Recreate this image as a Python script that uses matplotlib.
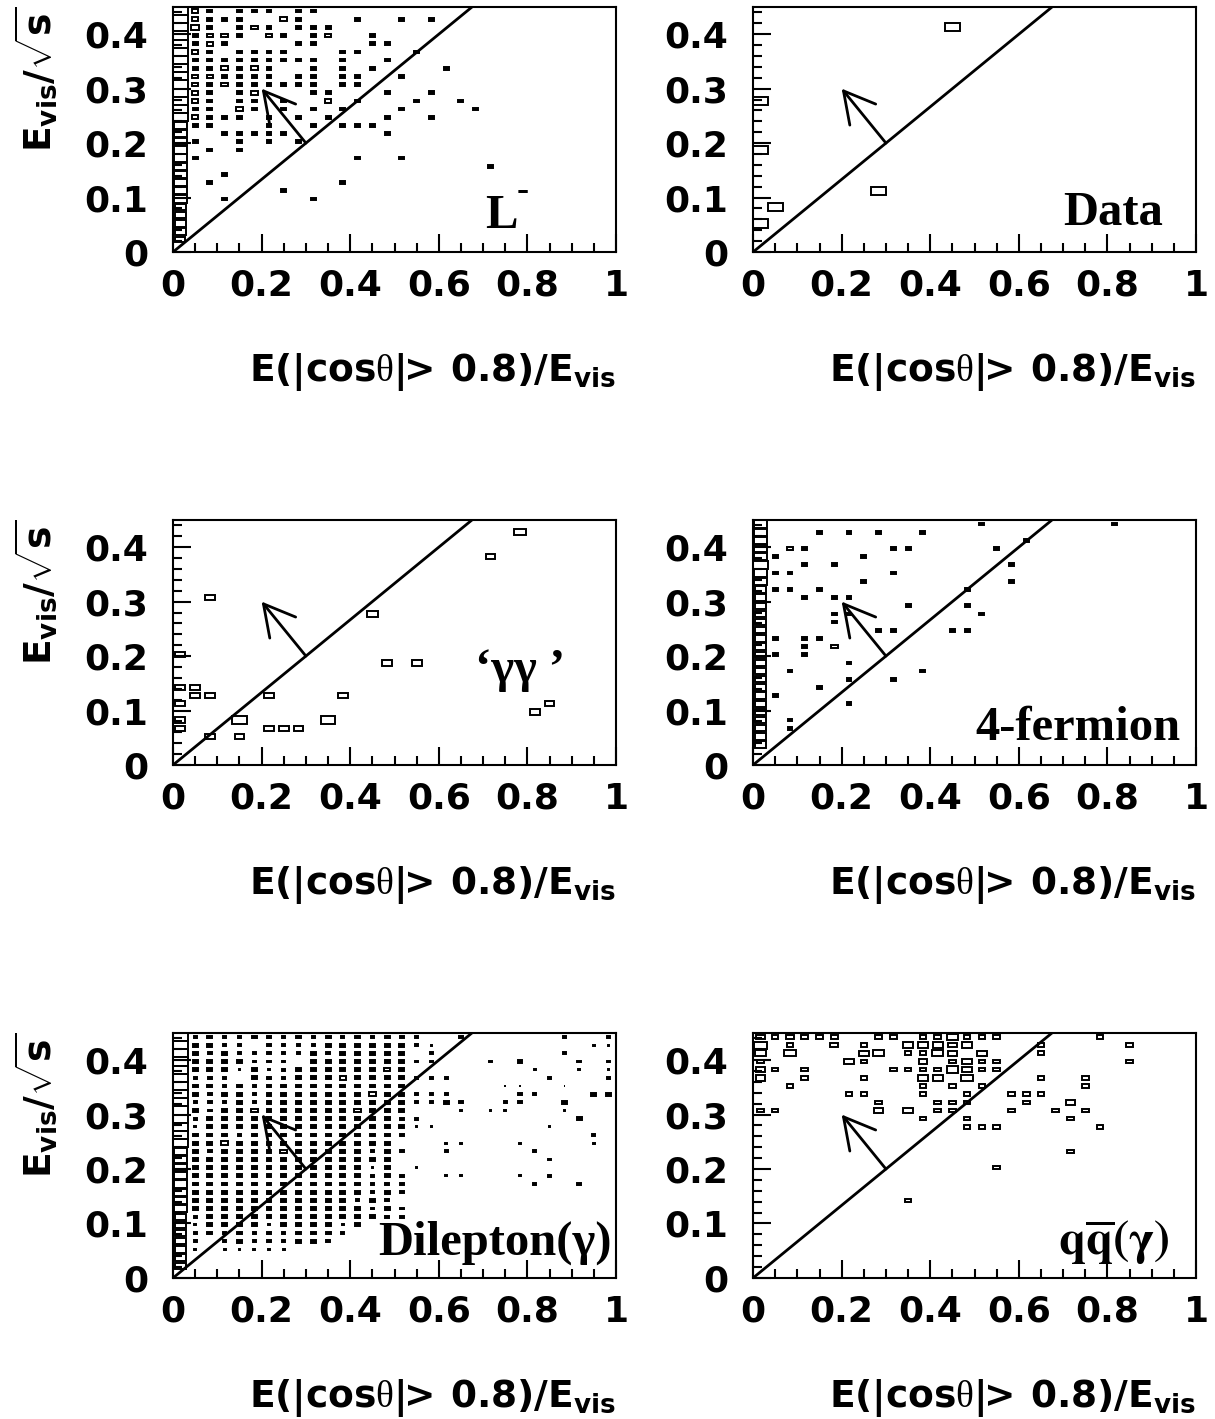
import matplotlib
matplotlib.use('Agg')
import matplotlib.pyplot as plt
from matplotlib import ticker
from matplotlib.patches import Rectangle

plt.rcParams['mathtext.fontset'] = 'custom'
plt.rcParams['mathtext.rm'] = 'DejaVu Sans:bold'
plt.rcParams['mathtext.bf'] = 'DejaVu Sans:bold'
plt.rcParams['mathtext.sf'] = 'DejaVu Sans:bold'
plt.rcParams['mathtext.it'] = 'Liberation Serif'

# histogram binning (30 x 30 bins)
NX, NY = 30, 30
XMAX, YMAX = 1.0, 0.45

# bin contents as relative box size (1..9, 9 = full bin), rows from top (y bin 29) down
GRID_L = [
    '943.333.33',
    '94333..43...3..3.3',
    '953.343.333',
    '93443.43.34..3',
    '9343....33...33',
    '943.3333...33...3',
    '9333333333.3..3',
    '9334343..3.3.3....3',
    '9443333.33.33..3',
    '9434333333.33',
    '943.34...33...3..3',
    '943.33.3..4.3...3..3',
    '933.43.3.3.3...3....3',
    '94333.3.3.3...3..3',
    '833...3..3.333',
    '8..33333......3',
    '83..3.3.3',
    '8.3.3',
    '83..........3..3',
    '8....................3',
    '8..3',
    '8.3........3',
    '8......3',
    '8..3.....3',
    '7',
    '7',
    '7',
    '7',
    '6',
    '',
]

# data events: bin index x, bin index y, box size
DATA_IX = [13, 0, 0, 8, 1, 0]
DATA_IY = [27, 18, 12, 7, 5, 3]
DATA_W = [9, 9, 9, 9, 9, 9]

# 'gamma gamma' background
GG_IX = [23, 21, 2, 13, 0, 14, 16, 0, 1, 1, 2, 6, 11, 0, 25, 24, 0, 4, 10, 0, 6, 7, 8, 2, 4]
GG_IY = [28, 25, 20, 18, 13, 12, 12, 9, 9, 8, 8, 8, 8, 7, 7, 6, 5, 5, 5, 4, 4, 4, 4, 3, 3]
GG_W = [7, 6, 6, 7, 6, 6, 6, 6, 6, 6, 6, 6, 6, 6, 6, 6, 6, 9, 9, 6, 6, 6, 6, 6, 6]

GRID_4F = [
    '8..............3........3',
    '8...3.3.3..3',
    '8.................3',
    '8.43.....33.....3',
    '83.....3',
    '9..3.3...........3',
    '833......3',
    '8......3.........3',
    '733.3.........3',
    '7..3.33',
    '7.........3...3',
    '7....33........3',
    '7....3',
    '7.......33...33',
    '73.33',
    '7..3.4',
    '73.3',
    '7.....3',
    '7.3........3',
    '7.....3..3',
    '7...3',
    '73',
    '7.....3',
    '7',
    '7.3',
    '7.3',
    '7',
    '7',
    '',
    '',
]

GRID_DILEP = [
    '92322322323232322..2......2..2',
    '93322.222233333321..........11',
    '9323222223233333.2........2',
    '93333222.333333322...2.3...2.2',
    '9333131233333343........1..1.1',
    '9222.32233343333222......2...2',
    '9332323333333333......11..1',
    '9323323333333433222....22...33',
    '92223233333333332232..22..3',
    '9323343333334333...1.11...1',
    '92333333333333322..........3',
    '913333333333333311.......1',
    '9333233333333332............2',
    '933433333333333...11...1....1',
    '8323333433333232..2.....2',
    '833333333333333..........2',
    '833333333333313.1',
    '8333333333333232..11...1.2',
    '8333333333333222........2..2',
    '8333333333333232',
    '833333333333232',
    '8333333333333232',
    '7233333333333322',
    '7133331333313',
    '723232323332',
    '72.23222332',
    '71.11111',
    '7',
    '7',
    '',
]

GRID_QQ = [
    '545444..44.447444......4',
    '8.4..5.4..66656....4.....4',
    '7.7....67.4475.6...4',
    '4.....64...5.4644........4',
    '64.4.....44447644',
    '6..4...4...66.7....4..4',
    '..4........4.4.4......4',
    '......44...4..4..444',
    '........4...444...4..5',
    '44......6.6.44...4..4.4',
    '...........4..4......4',
    '..............444......4',
    '',
    '',
    '.....................4',
    '',
    '................4',
    '',
    '',
    '',
    '..........4',
    '',
    '',
    '',
    '',
    '',
    '',
    '',
    '',
    '',
]

# selection cut and arrow
CUT_SLOPE = 2.0 / 3.0
ARROW_FROM = (0.3, 0.2)
ARROW_TO = (0.2, 0.3)

BOX_LW = 1.4
TICK_FONT = dict(family='DejaVu Sans', weight='bold', size=26)
LABEL_SERIF = dict(family='Liberation Serif', weight='bold', size=35)
XTITLE = r'$\mathrm{E(|cos}\theta\mathrm{|}\!\!>\mathrm{\ 0.8)/E_{vis}}$'
YTITLE = r'$\mathrm{E_{vis}/\sqrt{s}}$'


def add_box(ax, ix, iy, w):
    bw = XMAX / NX
    bh = YMAX / NY
    f = w / 9.0
    cx = (ix + 0.5) * bw
    cy = (iy + 0.5) * bh
    # small boxes print solid, as in the original
    face = 'black' if w <= 3 else 'none'
    ax.add_patch(Rectangle((cx - f * bw / 2, cy - f * bh / 2), f * bw, f * bh,
                           facecolor=face, edgecolor='black', lw=BOX_LW, zorder=1))


def draw_grid(ax, grid):
    for k, row in enumerate(grid):
        iy = NY - 1 - k
        for ix, ch in enumerate(row.ljust(NX, '.')):
            if ch != '.':
                add_box(ax, ix, iy, int(ch))


def draw_list(ax, xs, ys, ws):
    for ix, iy, w in zip(xs, ys, ws):
        add_box(ax, ix, iy, w)


def style(ax, ytitle=True):
    ax.set_xlim(0, XMAX)
    ax.set_ylim(0, YMAX)
    ax.xaxis.set_major_locator(ticker.MultipleLocator(0.2))
    ax.xaxis.set_minor_locator(ticker.MultipleLocator(0.05))
    ax.yaxis.set_major_locator(ticker.MultipleLocator(0.1))
    ax.yaxis.set_minor_locator(ticker.MultipleLocator(0.02))
    fmt = ticker.FuncFormatter(lambda v, p: '%g' % round(v, 2))
    ax.xaxis.set_major_formatter(fmt)
    ax.yaxis.set_major_formatter(fmt)
    ax.tick_params(which='both', direction='in', top=False, right=False, width=1.5)
    ax.tick_params(which='major', length=13)
    ax.tick_params(which='minor', length=6.5)
    ax.tick_params(axis='x', which='major', pad=12)
    ax.tick_params(axis='y', which='major', pad=18)
    for lab in ax.get_xticklabels() + ax.get_yticklabels():
        lab.set(**TICK_FONT)
    for sp in ax.spines.values():
        sp.set_linewidth(1.5)

    # cut line and arrow
    ax.plot([0, YMAX / CUT_SLOPE], [0, YMAX], color='black', lw=2.0, zorder=3)
    ax.annotate('', xy=ARROW_TO, xytext=ARROW_FROM,
                arrowprops=dict(arrowstyle='->,head_length=1.1,head_width=0.6',
                                mutation_scale=20, lw=2.0, color='black',
                                shrinkA=0, shrinkB=0), zorder=3)

    ax.text(1.0, -0.49, XTITLE, transform=ax.transAxes, ha='right', va='center', fontsize=27)
    if ytitle:
        ax.text(-0.31, 1.0, YTITLE, transform=ax.transAxes,
                rotation=90, ha='center', va='top', fontsize=27)


fig = plt.figure(figsize=(12.15, 14.19), dpi=100)
lefts = [0.1424, 0.6198]
bottoms = [0.8224, 0.4609, 0.0994]
W, H = 0.3646, 0.1727
axes = [[fig.add_axes([l, b, W, H]) for l in lefts] for b in bottoms]

ax = axes[0][0]
draw_grid(ax, GRID_L)
style(ax)
ax.text(0.704, 0.10, 'L', transform=ax.transAxes, ha='left', va='baseline', **LABEL_SERIF)
ax.text(0.776, 0.245, '-', transform=ax.transAxes, ha='left', va='center',
        family='Liberation Serif', weight='bold', size=26)

ax = axes[0][1]
draw_list(ax, DATA_IX, DATA_IY, DATA_W)
style(ax, ytitle=False)
ax.text(0.925, 0.11, 'Data', transform=ax.transAxes, ha='right', va='baseline', **LABEL_SERIF)

ax = axes[1][0]
draw_list(ax, GG_IX, GG_IY, GG_W)
style(ax)
ax.text(0.885, 0.34, '\u2018\u03b3\u03b3 \u2019', transform=ax.transAxes, ha='right',
        va='baseline', **LABEL_SERIF)

ax = axes[1][1]
draw_grid(ax, GRID_4F)
style(ax, ytitle=False)
ax.text(0.964, 0.10, '4-fermion', transform=ax.transAxes, ha='right', va='baseline', **LABEL_SERIF)

ax = axes[2][0]
draw_grid(ax, GRID_DILEP)
style(ax)
ax.text(0.99, 0.094, 'Dilepton(\u03b3)', transform=ax.transAxes, ha='right',
        va='baseline', **LABEL_SERIF)

ax = axes[2][1]
draw_grid(ax, GRID_QQ)
style(ax, ytitle=False)
ax.text(0.94, 0.094, r'$\mathbf{q\overline{q}(\gamma)}$', transform=ax.transAxes,
        ha='right', va='baseline', fontsize=35, math_fontfamily='stix')

fig.savefig('out.png', dpi=100)
